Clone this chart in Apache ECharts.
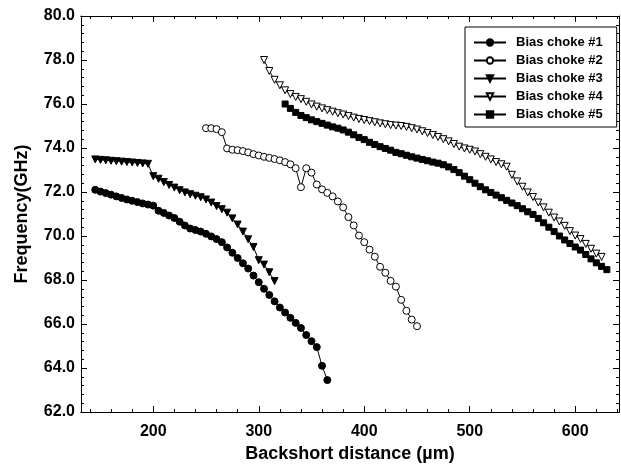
<!DOCTYPE html>
<html>
<head>
<meta charset="utf-8">
<script src="https://cdn.jsdelivr.net/npm/echarts@6/dist/echarts.min.js"></script>
<style>html,body{margin:0;padding:0;background:#fff;}#c{width:621px;height:476px;}</style>
</head>
<body>
<div id="c"></div>
<script>
// ---- data ----
const names = ['Bias choke #1','Bias choke #2','Bias choke #3','Bias choke #4','Bias choke #5'];

const x1 = [145,150,155,160,165,170,175,180,185,190,195,200,205,210,215,220,225,230,235,240,245,250,255,260,265,270,275,280,285,290,295,300,305,310,315,320,325,330,335,340,345,350,355,360,365];
const y1 = [72.10,72.02,71.95,71.88,71.80,71.73,71.66,71.60,71.54,71.48,71.43,71.38,71.15,71.05,70.93,70.82,70.65,70.48,70.34,70.27,70.20,70.10,69.98,69.86,69.72,69.48,69.24,69.00,68.76,68.52,68.20,67.90,67.60,67.32,67.03,66.75,66.52,66.28,66.05,65.82,65.50,65.22,64.95,64.10,63.45];

const x2 = [250,255,260,265,270,275,280,285,290,295,300,305,310,315,320,325,330,335,340,345,350,355,360,365,370,375,380,385,390,395,400,405,410,415,420,425,430,435,440,445,450];
const y2 = [74.90,74.90,74.86,74.72,73.98,73.92,73.90,73.86,73.80,73.72,73.66,73.60,73.55,73.50,73.44,73.36,73.26,73.08,72.22,73.08,72.88,72.34,72.12,71.96,71.80,71.57,71.30,70.86,70.48,70.02,69.72,69.38,69.06,68.60,68.33,67.96,67.70,67.10,66.60,66.20,65.90];

const x3 = [145,150,155,160,165,170,175,180,185,190,195,200,205,210,215,220,225,230,235,240,245,250,255,260,265,270,275,280,285,290,295,300,305,310,315];
const y3 = [73.48,73.46,73.44,73.42,73.40,73.38,73.36,73.34,73.32,73.30,73.28,72.72,72.60,72.45,72.32,72.20,72.08,71.98,71.90,71.83,71.76,71.66,71.52,71.36,71.22,71.06,70.80,70.52,70.20,69.85,69.50,68.90,68.70,68.35,67.95];

const x4 = [305,310,315,320,325,330,335,340,345,350,355,360,365,370,375,380,385,390,395,400,405,410,415,420,425,430,435,440,445,450,455,460,465,470,475,480,485,490,495,500,505,510,515,520,525,530,535,540,545,550,555,560,565,570,575,580,585,590,595,600,605,610,615,620,625];
const y4 = [78.00,77.50,77.10,76.85,76.62,76.45,76.32,76.22,76.10,75.98,75.88,75.80,75.72,75.65,75.58,75.52,75.45,75.38,75.32,75.27,75.22,75.17,75.12,75.08,75.04,75.02,75.00,74.96,74.90,74.84,74.76,74.68,74.59,74.50,74.40,74.30,74.18,74.06,73.98,73.92,73.84,73.72,73.60,73.48,73.36,73.26,73.15,72.78,72.48,72.24,71.98,71.77,71.52,71.30,71.06,70.84,70.66,70.46,70.22,70.02,69.86,69.64,69.42,69.20,69.05];

const x5 = [325,330,335,340,345,350,355,360,365,370,375,380,385,390,395,400,405,410,415,420,425,430,435,440,445,450,455,460,465,470,475,480,485,490,495,500,505,510,515,520,525,530,535,540,545,550,555,560,565,570,575,580,585,590,595,600,605,610,615,620,625,630];
const y5 = [76.00,75.80,75.62,75.48,75.38,75.28,75.20,75.12,75.04,74.96,74.90,74.82,74.72,74.60,74.48,74.38,74.26,74.16,74.06,73.98,73.90,73.80,73.74,73.67,73.60,73.54,73.48,73.42,73.36,73.31,73.24,73.14,73.02,72.88,72.72,72.56,72.40,72.24,72.10,71.98,71.86,71.74,71.62,71.50,71.38,71.24,71.10,70.98,70.80,70.60,70.40,70.20,70.00,69.82,69.66,69.50,69.36,69.16,68.96,68.78,68.62,68.47];

const xMajorTicks = [200,300,400,500,600];
const xMinorTicks = [140,160,180,220,240,260,280,320,340,360,380,420,440,460,480,520,540,560,580,620,640];

// ---- chart ----
const FONT = 'Liberation Sans';
const XMIN = 131.5, XMAX = 641.5;
function pts(xs, ys){ return xs.map((x,i)=>[x, ys[i]]); }

const chart = echarts.init(document.getElementById('c'), null, {renderer:'canvas'});

const axisLineStyle = {show:true, lineStyle:{color:'#000', width:1}};

function xAx(pos, ticks, len, withLabel){
  return {
    type:'value', position:pos, min:XMIN, max:XMAX,
    axisLine: axisLineStyle,
    axisTick:{show:true, inside:true, length:len, customValues:ticks, lineStyle:{color:'#000', width:1}},
    axisLabel: withLabel ? {show:true, customValues:xMajorTicks, margin:12, color:'#000',
      fontFamily:FONT, fontSize:16, fontWeight:'bold'} : {show:false},
    splitLine:{show:false}
  };
}

const xAxes = [
  Object.assign(xAx('bottom', xMajorTicks, 6, true), {
    name:'Backshort distance (\u00b5m)', nameLocation:'middle', nameGap:24,
    nameTextStyle:{fontFamily:FONT, fontSize:18, fontWeight:'bold', color:'#000'}
  }),
  xAx('bottom', xMinorTicks, 3, false),
  xAx('top', xMajorTicks, 6, false),
  xAx('top', xMinorTicks, 3, false)
];

function yAx(pos, withLabel){
  return {
    type:'value', position:pos, min:62, max:80, interval:2,
    axisLine: axisLineStyle,
    axisTick:{show:true, inside:true, length:6, lineStyle:{color:'#000', width:1}},
    minorTick:{show:true, splitNumber:5, length:3, lineStyle:{color:'#000', width:1}},
    axisLabel: withLabel ? {show:true, margin:6, color:'#000', fontFamily:FONT, fontSize:16, fontWeight:'bold',
      formatter:v=>v.toFixed(1)} : {show:false},
    splitLine:{show:false}, minorSplitLine:{show:false}
  };
}
const yAxes = [
  Object.assign(yAx('left', true), {
    name:'Frequency(GHz)', nameLocation:'middle', nameGap:50, nameRotate:90,
    nameTextStyle:{fontFamily:FONT, fontSize:18, fontWeight:'bold', color:'#000'}
  }),
  yAx('right', false)
];

function ser(i, xs, ys, symbol, filled, size, rotate){
  return {
    name:names[i], type:'line', xAxisIndex:0, yAxisIndex:0,
    data:pts(xs, ys), symbol:symbol, symbolSize:size, symbolRotate:rotate||0,
    showSymbol:true, animation:false,
    lineStyle:{color:'#000', width:1},
    itemStyle: filled ? {color:'#000', borderColor:'#000', borderWidth:1}
                      : {color:'#fff', borderColor:'#000', borderWidth:1},
    emphasis:{disabled:true}
  };
}

chart.setOption({
  animation:false,
  backgroundColor:'#fff',
  grid:{left:81, right:2, top:16, bottom:64, containLabel:false},
  legend:{
    orient:'vertical', left:465, top:27,
    data:names,
    itemWidth:32, itemHeight:8, itemGap:5,
    padding:[9,14,6,8],
    borderColor:'#000', borderWidth:1, backgroundColor:'#fff',
    textStyle:{fontFamily:FONT, fontSize:13, fontWeight:'bold', color:'#000', padding:[0,0,0,5]}
  },
  xAxis:xAxes,
  yAxis:yAxes,
  series:[
    ser(0, x1, y1, 'circle', true, 7),
    ser(1, x2, y2, 'circle', false, 7),
    ser(2, x3, y3, 'triangle', true, 7, 180),
    ser(3, x4, y4, 'triangle', false, 7, 180),
    ser(4, x5, y5, 'rect', true, 6)
  ]
});
</script>
</body>
</html>
